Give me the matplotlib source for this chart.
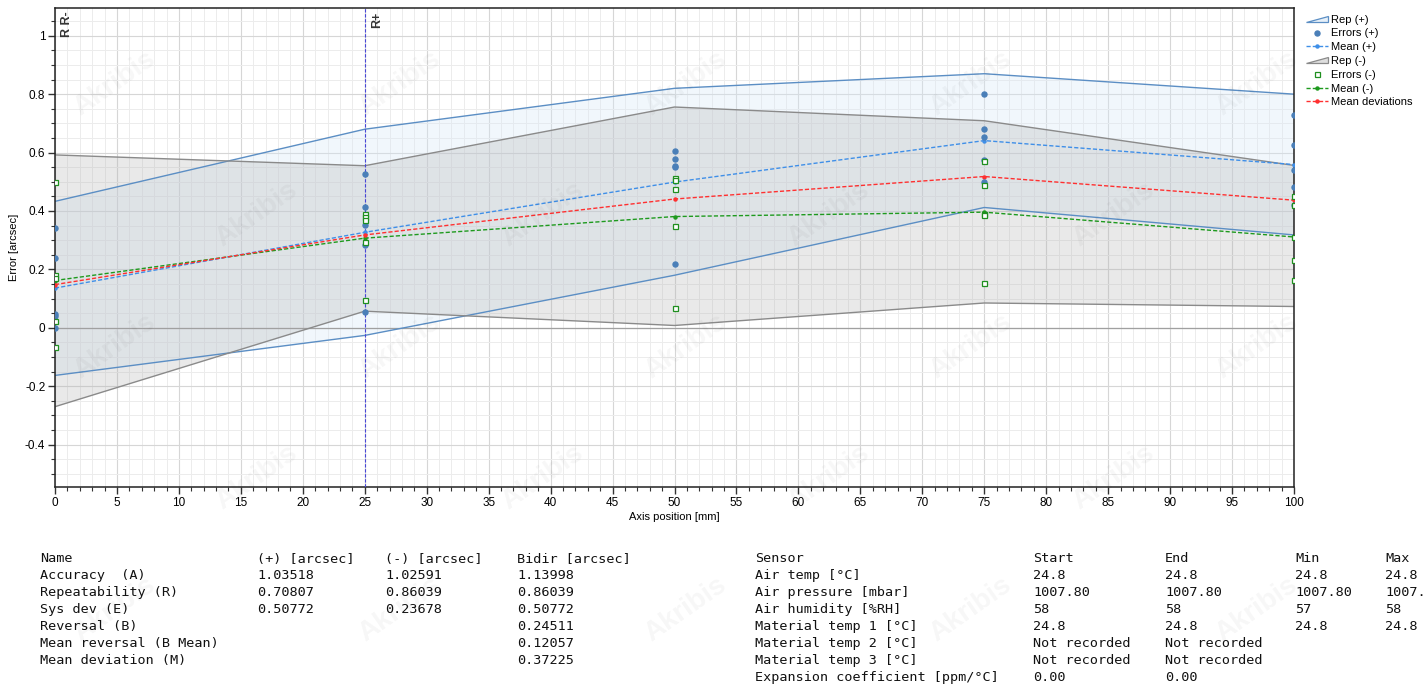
import numpy as np
import matplotlib
matplotlib.use('Agg')
import matplotlib.pyplot as plt
from matplotlib.patches import Polygon
from matplotlib.lines import Line2D
from matplotlib.legend_handler import HandlerBase
from matplotlib.ticker import MultipleLocator, FuncFormatter

# positions along the axis [mm]
x_pos = [0, 25, 50, 75, 100]

# repeatability bands
rep_pos_hi = [0.433, 0.680, 0.820, 0.870, 0.800]
rep_pos_lo = [-0.163, -0.026, 0.180, 0.412, 0.318]
rep_neg_hi = [0.592, 0.555, 0.756, 0.709, 0.556]
rep_neg_lo = [-0.270, 0.057, 0.008, 0.085, 0.073]

# measured errors per position, one list per target
err_pos = [
    [0.343, 0.239, 0.048, 0.042, 0.000],
    [0.528, 0.413, 0.352, 0.282, 0.054],
    [0.606, 0.579, 0.555, 0.549, 0.219],
    [0.800, 0.680, 0.655, 0.575, 0.499],
    [0.727, 0.626, 0.541, 0.482, 0.420],
]
err_neg = [
    [0.498, 0.181, 0.170, 0.022, -0.066],
    [0.390, 0.380, 0.370, 0.295, 0.095],
    [0.513, 0.505, 0.475, 0.349, 0.067],
    [0.572, 0.490, 0.390, 0.385, 0.154],
    [0.450, 0.420, 0.310, 0.233, 0.164],
]

mean_pos = [0.136, 0.327, 0.499, 0.641, 0.559]
mean_neg = [0.162, 0.307, 0.381, 0.396, 0.311]
mean_dev = [0.148, 0.318, 0.441, 0.518, 0.437]

# result table
res_header = ['Name', '(+) [arcsec]', '(-) [arcsec]', 'Bidir [arcsec]']
res_rows = [
    ['Accuracy  (A)', '1.03518', '1.02591', '1.13998'],
    ['Repeatability (R)', '0.70807', '0.86039', '0.86039'],
    ['Sys dev (E)', '0.50772', '0.23678', '0.50772'],
    ['Reversal (B)', '', '', '0.24511'],
    ['Mean reversal (B Mean)', '', '', '0.12057'],
    ['Mean deviation (M)', '', '', '0.37225'],
]
env_header = ['Sensor', 'Start', 'End', 'Min', 'Max']
env_rows = [
    ['Air temp [°C]', '24.8', '24.8', '24.8', '24.8'],
    ['Air pressure [mbar]', '1007.80', '1007.80', '1007.80', '1007.'],
    ['Air humidity [%RH]', '58', '58', '57', '58'],
    ['Material temp 1 [°C]', '24.8', '24.8', '24.8', '24.8'],
    ['Material temp 2 [°C]', 'Not recorded', 'Not recorded', '', ''],
    ['Material temp 3 [°C]', 'Not recorded', 'Not recorded', '', ''],
    ['Expansion coefficient [ppm/°C]', '0.00', '0.00', '', ''],
]

W, H = 1428, 692
plt.rcParams['font.family'] = ['Liberation Sans', 'DejaVu Sans']

fig = plt.figure(figsize=(W / 100, H / 100), dpi=100)
ax = fig.add_axes([55 / W, 1 - 487 / H, (1294 - 55) / W, (487 - 8) / H])


class HandlerWedge(HandlerBase):
    def create_artists(self, legend, orig, x0, y0, width, height, fontsize, trans):
        pts = [[x0, y0 + 0.1 * height], [x0 + width, y0 + 0.1 * height],
               [x0 + width, y0 + 0.9 * height]]
        p = Polygon(pts, closed=True, facecolor=orig.get_facecolor(),
                    edgecolor=orig.get_edgecolor(), lw=0.9, transform=trans)
        return [p]


# faint watermark, kept inside the figure
for row in range(5):
    for col in range(5):
        wx = 0.08 + col * 0.2 + (row % 2) * 0.1
        wy = 0.88 - row * 0.19
        if wx > 0.93:
            continue
        fig.text(wx, wy, 'Akribis', fontsize=20, fontweight='bold', rotation=35,
                 color='#000000', alpha=0.035, ha='center', va='center', zorder=0)

ax.fill_between(x_pos, rep_pos_lo, rep_pos_hi, facecolor='#d8e9f7', alpha=0.35, lw=0, zorder=1)
ax.plot(x_pos, rep_pos_hi, color='#5b8ec4', lw=1.0, zorder=2)
ax.plot(x_pos, rep_pos_lo, color='#5b8ec4', lw=1.0, zorder=2)
ax.fill_between(x_pos, rep_neg_lo, rep_neg_hi, facecolor='#b0b0b0', alpha=0.28, lw=0, zorder=1)
ax.plot(x_pos, rep_neg_hi, color='#8a8a8a', lw=1.0, zorder=2)
ax.plot(x_pos, rep_neg_lo, color='#8a8a8a', lw=1.0, zorder=2)

ax.axhline(0, color='#a0a0a0', lw=0.9, zorder=1.5)
ax.axvline(25, color='#4646d8', lw=0.8, ls=(0, (3, 1.5)), zorder=3)

for xp, ep, en in zip(x_pos, err_pos, err_neg):
    ax.plot([xp] * len(ep), ep, 'o', ms=3.6, color='#4a7fb8', mec='#4a7fb8', zorder=5)
    ax.plot([xp] * len(en), en, 's', ms=3.6, mfc='white', mec='#1f8f1f', mew=0.9, zorder=5)

ax.plot(x_pos, mean_pos, color='#3f8fe8', lw=1.0, ls=(0, (3, 1.5)), marker='o', ms=2.2, zorder=4)
ax.plot(x_pos, mean_neg, color='#1e9a1e', lw=1.0, ls=(0, (3, 1.5)), marker='o', ms=2.2, zorder=4)
ax.plot(x_pos, mean_dev, color='#ff3030', lw=1.0, ls=(0, (3, 1.5)), marker='o', ms=2.2, zorder=4)

ax.text(0.5, 1.082, 'R R-', rotation=90, ha='left', va='top', fontsize=9, fontweight='bold', color='#333333')
ax.text(25.5, 1.082, 'R+', rotation=90, ha='left', va='top', fontsize=9, fontweight='bold', color='#333333')

ax.set_xlim(0, 100)
ax.set_ylim(-0.545, 1.095)
ax.xaxis.set_major_locator(MultipleLocator(5))
ax.xaxis.set_minor_locator(MultipleLocator(1))
ax.yaxis.set_major_locator(MultipleLocator(0.2))
ax.yaxis.set_minor_locator(MultipleLocator(0.05))
ax.yaxis.set_major_formatter(FuncFormatter(lambda v, p: '%g' % round(v, 2)))
ax.grid(which='major', color='#d6d6d6', lw=0.8)
ax.grid(which='minor', color='#ececec', lw=0.7)
ax.set_axisbelow(True)
ax.tick_params(which='major', length=5, width=1, labelsize=8.5, color='#333333', pad=2)
ax.tick_params(which='minor', length=3, width=0.8, color='#333333')
for s in ax.spines.values():
    s.set_color('#222222')
    s.set_linewidth(1.1)
ax.set_xlabel('Axis position [mm]', fontsize=8, labelpad=2)
ax.set_ylabel('Error [arcsec]', fontsize=8, labelpad=4)

handles = [
    Polygon([[0, 0]], facecolor='#e6f0f9', edgecolor='#5b8ec4'),
    Line2D([], [], ls='', marker='o', ms=3.6, color='#4a7fb8'),
    Line2D([], [], color='#3f8fe8', lw=1.0, ls=(0, (3, 1.5)), marker='o', ms=2.2),
    Polygon([[0, 0]], facecolor='#dedede', edgecolor='#8a8a8a'),
    Line2D([], [], ls='', marker='s', ms=3.6, mfc='white', mec='#1f8f1f', mew=0.9),
    Line2D([], [], color='#1e9a1e', lw=1.0, ls=(0, (3, 1.5)), marker='o', ms=2.2),
    Line2D([], [], color='#ff3030', lw=1.0, ls=(0, (3, 1.5)), marker='o', ms=2.2),
]
labels = ['Rep (+)', 'Errors (+)', 'Mean (+)', 'Rep (-)', 'Errors (-)', 'Mean (-)', 'Mean deviations']
ax.legend(handles, labels, loc='upper left', bbox_to_anchor=(1.004, 1.0), frameon=False,
          fontsize=8, labelspacing=0.34, handlelength=2.0, handletextpad=0.3,
          borderaxespad=0.2, handler_map={Polygon: HandlerWedge()})

# tables below the chart
mono = dict(family='DejaVu Sans Mono', fontsize=9.7, color='#111111', va='center')
row_y = [559 + i * 16.9 for i in range(8)]
res_cols = [40, 257, 385, 517]
for c, txt in zip(res_cols, res_header):
    fig.text(c / W, 1 - row_y[0] / H, txt, **mono)
for r, row in enumerate(res_rows):
    for c, txt in zip(res_cols, row):
        if txt:
            fig.text(c / W, 1 - row_y[r + 1] / H, txt, **mono)
env_cols = [755, 1033, 1165, 1295, 1385]
for c, txt in zip(env_cols, env_header):
    fig.text(c / W, 1 - row_y[0] / H, txt, **mono)
for r, row in enumerate(env_rows):
    for c, txt in zip(env_cols, row):
        if txt:
            fig.text(c / W, 1 - row_y[r + 1] / H, txt, **mono)

fig.savefig('out.png', dpi=100)
